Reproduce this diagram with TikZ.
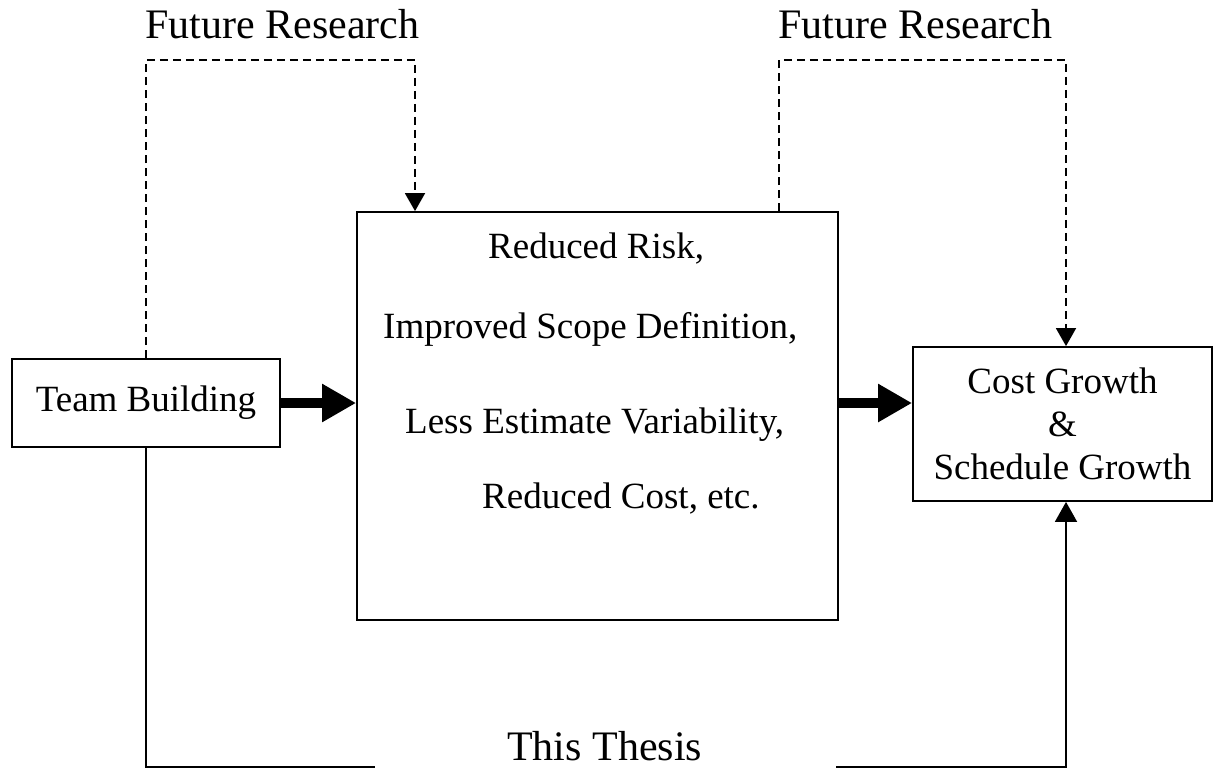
\documentclass[tikz,border=0pt]{standalone}
\usepackage{fontspec}
\setmainfont{Liberation Serif}
\usetikzlibrary{arrows.meta}

\tikzset{
  boxline/.style={draw=black, line width=1.8pt},
  boxtext/.style={font=\fontsize{37}{43}\selectfont, inner sep=0pt},
  headtext/.style={font=\fontsize{42}{48}\selectfont, inner sep=0pt},
  futurelink/.style={line width=1.8pt, dash pattern=on 8pt off 5pt,
    -{Triangle[width=20pt,length=18pt]}},
  thesislink/.style={line width=1.8pt},
  thesisarrow/.style={line width=1.8pt, -{Triangle[width=22pt,length=20pt]}},
  bigarrow/.style={line width=10pt, -{Triangle[width=36pt,length=34pt]}}
}

\begin{document}
\begin{tikzpicture}[x=1pt, y=-1pt]
  \useasboundingbox (0,0) rectangle (1214,769);

  % boxes
  \node[boxline, boxtext, minimum width=268pt, minimum height=88pt]
    (team) at (146,403) {Team Building};
  \node[boxline, minimum width=481pt, minimum height=408pt]
    (effects) at (597.5,416) {};
  \node[boxline, boxtext, align=center, minimum width=299pt, minimum height=154pt]
    (cg) at (1062.5,424) {Cost Growth\\\&\\Schedule Growth};

  % text inside the middle box
  \node[boxtext, anchor=base west] (e1) at (488,258) {Reduced Risk,};
  \node[boxtext, anchor=base west] (e2) at (383,338) {Improved Scope Definition,};
  \node[boxtext, anchor=base west] (e3) at (405,433) {Less Estimate Variability,};
  \node[boxtext, anchor=base west] (e4) at (482,508) {Reduced Cost, etc.};

  % headings
  \node[headtext, anchor=base west] (fr1) at (145,38) {Future Research};
  \node[headtext, anchor=base west] (fr2) at (778,38) {Future Research};
  \node[headtext, anchor=base west] (thesis) at (507,760) {This Thesis};

  % corner points of the connectors
  \coordinate (d1b) at (415,60);
  \coordinate (d2a) at (779,60);
  \coordinate (d2b) at (1066,60);
  \coordinate (bl) at (375,767);
  \coordinate (br) at (836,767);
  \coordinate (tb) at (1066,767);

  % future research links (dashed)
  \draw[futurelink] (team.north) |- (d1b) -- (d1b |- effects.north);
  \draw[futurelink] (d2a |- effects.north) -- (d2a) -- (d2b) -- (d2b |- cg.north);

  % main flow
  \draw[bigarrow] (team.east) -- (team.east -| effects.west);
  \draw[bigarrow] (effects.east |- team.east) -- (cg.west |- team.east);

  % this thesis link
  \draw[thesislink] (team.south) |- (bl);
  \draw[thesisarrow] (br) -- (tb) -- (tb |- cg.south);
\end{tikzpicture}
\end{document}
